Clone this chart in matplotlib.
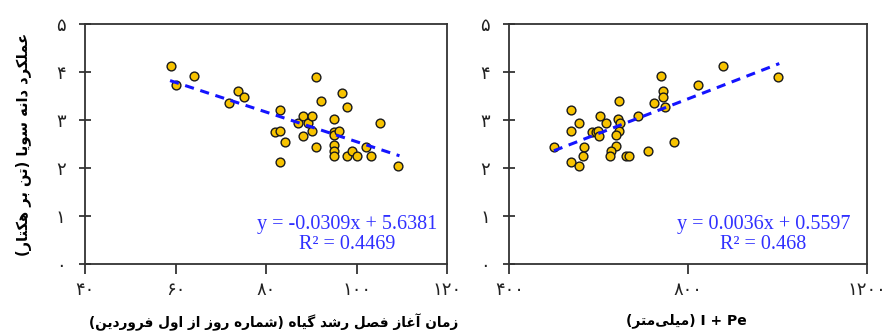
import matplotlib
matplotlib.use('Agg')
import matplotlib.pyplot as plt

# ---------------- data ----------------
start_day = [59.0, 60.1, 64.0, 71.9, 73.9, 75.1, 83.1, 82.0, 83.1, 84.1, 83.1, 87.0,
             88.1, 89.2, 90.2, 90.2, 88.1, 91.1, 91.1, 92.1, 95.0, 95.0, 95.0, 96.1,
             96.9, 98.0, 95.0, 95.0, 95.0, 98.0, 99.1, 100.2, 102.2, 103.2, 105.2, 109.2]
yield_left = [4.12, 3.72, 3.92, 3.35, 3.61, 3.48, 3.20, 2.74, 2.78, 2.55, 2.13, 2.93,
              3.09, 2.93, 3.08, 2.78, 2.66, 2.43, 3.90, 3.39, 3.02, 2.75, 2.69, 2.78,
              3.57, 3.28, 2.47, 2.36, 2.25, 2.25, 2.36, 2.26, 2.43, 2.26, 2.93, 2.05]

water = [500.7, 538.1, 538.1, 538.1, 556.0, 556.7, 567.2, 564.2, 585.8, 593.3, 598.5, 600.7,
         603.7, 615.7, 644.8, 643.3, 647.0, 644.8, 639.6, 639.6, 628.4, 626.1, 661.2, 668.7,
         687.3, 709.7, 723.1, 738.8, 744.8, 744.0, 749.3, 769.4, 823.1, 878.4, 1001.5]
yield_right = [2.43, 3.20, 2.78, 2.13, 2.05, 2.93, 2.43, 2.26, 2.74, 2.74, 2.77, 2.66,
               3.09, 2.93, 3.39, 3.03, 2.93, 2.78, 2.69, 2.46, 2.36, 2.25, 2.25, 2.25,
               3.08, 2.36, 3.35, 3.92, 3.61, 3.48, 3.28, 2.55, 3.72, 4.12, 3.90]

fit_left = (-0.0309, 5.6381)
fit_right = (0.0036, 0.5597)
r2_left = "0.4469"
r2_right = "0.468"

y_ticks = [0, 1, 2, 3, 4, 5]
y_ticklabels = ['۰', '۱', '۲', '۳', '۴', '۵']
xl_ticks = [40, 60, 80, 100, 120]
xl_ticklabels = ['۴۰', '۶۰', '۸۰', '۱۰۰', '۱۲۰']
xr_ticks = [400, 800, 1200]
xr_ticklabels = ['۴۰۰', '۸۰۰', '۱۲۰۰']

ylabel_text = 'عملکرد دانه سویا (تن بر هکتار)'
xlabel_left = 'زمان آغاز فصل رشد گیاه (شماره روز از اول فروردین)'
xlabel_right_fa = '(میلی\u200cمتر)'
xlabel_right_en = 'I + Pe'

# ------------- minimal Persian shaping -------------
FORMS = {  # isolated, final, initial, medial
    'ا': ('\uFE8D', '\uFE8E', None, None),
    'آ': ('\uFE81', '\uFE82', None, None),
    'ب': ('\uFE8F', '\uFE90', '\uFE91', '\uFE92'),
    'ت': ('\uFE95', '\uFE96', '\uFE97', '\uFE98'),
    'د': ('\uFEA9', '\uFEAA', None, None),
    'ر': ('\uFEAD', '\uFEAE', None, None),
    'ز': ('\uFEAF', '\uFEB0', None, None),
    'س': ('\uFEB1', '\uFEB2', '\uFEB3', '\uFEB4'),
    'ش': ('\uFEB5', '\uFEB6', '\uFEB7', '\uFEB8'),
    'ص': ('\uFEB9', '\uFEBA', '\uFEBB', '\uFEBC'),
    'ع': ('\uFEC9', '\uFECA', '\uFECB', '\uFECC'),
    'غ': ('\uFECD', '\uFECE', '\uFECF', '\uFED0'),
    'ف': ('\uFED1', '\uFED2', '\uFED3', '\uFED4'),
    'ل': ('\uFEDD', '\uFEDE', '\uFEDF', '\uFEE0'),
    'م': ('\uFEE1', '\uFEE2', '\uFEE3', '\uFEE4'),
    'ن': ('\uFEE5', '\uFEE6', '\uFEE7', '\uFEE8'),
    'ه': ('\uFEE9', '\uFEEA', '\uFEEB', '\uFEEC'),
    'و': ('\uFEED', '\uFEEE', None, None),
    'ی': ('\uFBFC', '\uFBFD', '\uFBFE', '\uFBFF'),
    'ک': ('\uFB8E', '\uFB8F', '\uFB90', '\uFB91'),
    'گ': ('\uFB92', '\uFB93', '\uFB94', '\uFB95'),
}
MIRROR = {'(': ')', ')': '('}


def fa(text):
    out = []
    n = len(text)
    for i, ch in enumerate(text):
        if ch not in FORMS:
            if ch == '\u200c':
                continue
            out.append(MIRROR.get(ch, ch))
            continue
        prev = text[i - 1] if i > 0 else None
        nxt = text[i + 1] if i < n - 1 else None
        pj = prev in FORMS and FORMS[prev][2] is not None
        nj = FORMS[ch][2] is not None and nxt in FORMS
        f = FORMS[ch]
        if pj and nj:
            g = f[3]
        elif pj:
            g = f[1]
        elif nj:
            g = f[2]
        else:
            g = f[0]
        out.append(g)
    return ''.join(reversed(out))


# ---------------- plot ----------------
plt.rcParams['font.family'] = ['DejaVu Sans']
fig = plt.figure(figsize=(8.88, 3.32), dpi=100)
axL = fig.add_axes([85 / 888, 68 / 332, 362 / 888, 240 / 332])
axR = fig.add_axes([509.3 / 888, 68 / 332, 357.3 / 888, 240 / 332])

marker_kw = dict(s=40, facecolor='#F7C300', edgecolor='#1a1a1a', linewidths=1.0, zorder=3)
line_kw = dict(color='#1414FF', lw=2.2, dashes=(3.0, 2.2), zorder=4)
eq_kw = dict(color='#3030FF', fontsize=14.5, family=['Liberation Serif', 'DejaVu Serif'],
             ha='center', va='center', linespacing=1.12)


def style(ax, xlim, xticks, xlabels):
    ax.set_xlim(*xlim)
    ax.set_ylim(0, 5)
    ax.set_xticks(xticks)
    ax.set_xticklabels(xlabels, fontsize=13)
    ax.set_yticks(y_ticks)
    ax.set_yticklabels(y_ticklabels, fontsize=13)
    ax.tick_params(axis='x', direction='out', length=7, width=1.2, pad=5, colors='#222222')
    ax.tick_params(axis='y', direction='inout', length=8, width=1.2, pad=10, colors='#222222')
    for sp in ax.spines.values():
        sp.set_linewidth(1.3)
        sp.set_color('#333333')


# left
axL.scatter(start_day, yield_left, **marker_kw)
xs = [min(start_day) - 0.2, max(start_day) + 0.3]
axL.plot(xs, [fit_left[0] * v + fit_left[1] for v in xs], **line_kw)
style(axL, (40, 120), xl_ticks, xl_ticklabels)
axL.text(0.724, 0.123, f"y = {fit_left[0]:.4f}x + {fit_left[1]:.4f}\nR² = {r2_left}",
         transform=axL.transAxes, **eq_kw)
axL.set_ylabel(fa(ylabel_text), fontsize=10.5, fontweight='bold', labelpad=17)
axL.set_xlabel(fa(xlabel_left), fontsize=9.8, fontweight='bold')
axL.xaxis.set_label_coords(0.52, -0.205)

# right
axR.scatter(water, yield_right, **marker_kw)
xs = [min(water) - 1, max(water) + 3]
axR.plot(xs, [fit_right[0] * v + fit_right[1] for v in xs], **line_kw)
style(axR, (400, 1200), xr_ticks, xr_ticklabels)
axR.text(0.711, 0.123, f"y = {fit_right[0]:.4f}x + {fit_right[1]:.4f}\nR² = {r2_right}",
         transform=axR.transAxes, **eq_kw)
axR.set_xlabel(fa(xlabel_right_fa) + ' ' + xlabel_right_en, fontsize=10,
               fontweight='bold')
axR.xaxis.set_label_coords(0.496, -0.205)

fig.savefig('out.png', dpi=100)
